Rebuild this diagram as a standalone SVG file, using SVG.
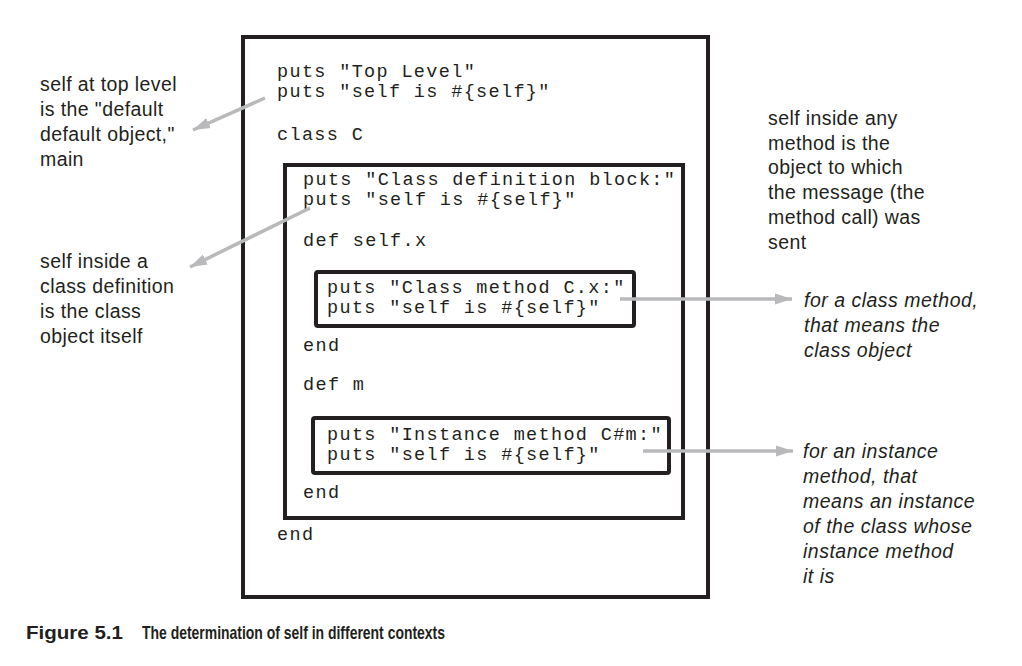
<svg xmlns="http://www.w3.org/2000/svg" width="1022" height="666" viewBox="0 0 1022 666">
<style>
.box{fill:none;stroke:#231f20;stroke-width:4}
.code{font-family:"Liberation Mono","Courier New",monospace;font-size:18.5px;letter-spacing:1.34px;fill:#231f20}
.note{font-family:"Liberation Sans",Arial,sans-serif;font-size:19.5px;letter-spacing:0.4px;fill:#231f20}
.it{font-family:"Liberation Sans",Arial,sans-serif;font-size:19.5px;letter-spacing:0.5px;font-style:italic;fill:#231f20}
.cap{font-family:"Liberation Sans",Arial,sans-serif;font-size:19px;font-weight:bold;fill:#231f20}
.conn{stroke:#b9b9bb;stroke-width:3.5;fill:none}
</style>
<defs>
<marker id="ah" markerUnits="userSpaceOnUse" markerWidth="20" markerHeight="12" refX="17" refY="6" orient="auto">
<path d="M0,0.5 L17,6 L0,11.5 z" fill="#b9b9bb"/>
</marker>
</defs>
<rect width="1022" height="666" fill="#ffffff"/>
<g id="outer">
<rect class="box" x="243" y="37" width="465" height="560"/>
<text class="code" x="277" y="77">puts "Top Level"</text>
<text class="code" x="277" y="97">puts "self is #{self}"</text>
<text class="code" x="277" y="140">class C</text>
<text class="code" x="277" y="540">end</text>
</g>
<g id="classdef">
<rect class="box" x="285" y="165" width="398" height="353"/>
<text class="code" x="303" y="185">puts "Class definition block:"</text>
<text class="code" x="303" y="205">puts "self is #{self}"</text>
<text class="code" x="303" y="246">def self.x</text>
<text class="code" x="303" y="351">end</text>
<text class="code" x="303" y="390">def m</text>
<text class="code" x="303" y="498">end</text>
</g>
<g id="classmethod">
<rect class="box" x="316" y="272" width="318" height="54" rx="2"/>
<text class="code" x="327" y="293">puts "Class method C.x:"</text>
<text class="code" x="327" y="313">puts "self is #{self}"</text>
</g>
<g id="instmethod">
<rect class="box" x="313" y="418" width="356" height="55" rx="2"/>
<text class="code" x="327" y="440">puts "Instance method C#m:"</text>
<text class="code" x="327" y="460">puts "self is #{self}"</text>
</g>
<g id="note-top">
<text class="note" x="40" y="91">self at top level</text>
<text class="note" x="40" y="116">is the "default</text>
<text class="note" x="40" y="141">default object,"</text>
<text class="note" x="40" y="166">main</text>
</g>
<g id="note-class">
<text class="note" x="40" y="268">self inside a</text>
<text class="note" x="40" y="293">class definition</text>
<text class="note" x="40" y="318">is the class</text>
<text class="note" x="40" y="343">object itself</text>
</g>
<g id="note-method">
<text class="note" x="768" y="125">self inside any</text>
<text class="note" x="768" y="150">method is the</text>
<text class="note" x="768" y="174">object to which</text>
<text class="note" x="768" y="199">the message (the</text>
<text class="note" x="768" y="224">method call) was</text>
<text class="note" x="768" y="249">sent</text>
</g>
<g id="note-classmethod">
<text class="it" x="804" y="307">for a class method,</text>
<text class="it" x="804" y="332">that means the</text>
<text class="it" x="804" y="357">class object</text>
</g>
<g id="note-inst">
<text class="it" x="803" y="458">for an instance</text>
<text class="it" x="803" y="483">method, that</text>
<text class="it" x="803" y="508">means an instance</text>
<text class="it" x="803" y="533">of the class whose</text>
<text class="it" x="803" y="558">instance method</text>
<text class="it" x="803" y="583">it is</text>
</g>
<g id="connectors">
<line class="conn" x1="265" y1="98" x2="193" y2="130" marker-end="url(#ah)"/>
<line class="conn" x1="310" y1="208" x2="190" y2="267" marker-end="url(#ah)"/>
<line class="conn" x1="620" y1="299" x2="792" y2="299" marker-end="url(#ah)"/>
<line class="conn" x1="643" y1="451" x2="793" y2="451" marker-end="url(#ah)"/>
</g>
<g id="caption">
<text class="cap" x="26" y="639" textLength="97" lengthAdjust="spacingAndGlyphs">Figure 5.1</text>
<text class="cap" x="142" y="639" textLength="303" lengthAdjust="spacingAndGlyphs">The determination of self in different contexts</text>
</g>
</svg>
